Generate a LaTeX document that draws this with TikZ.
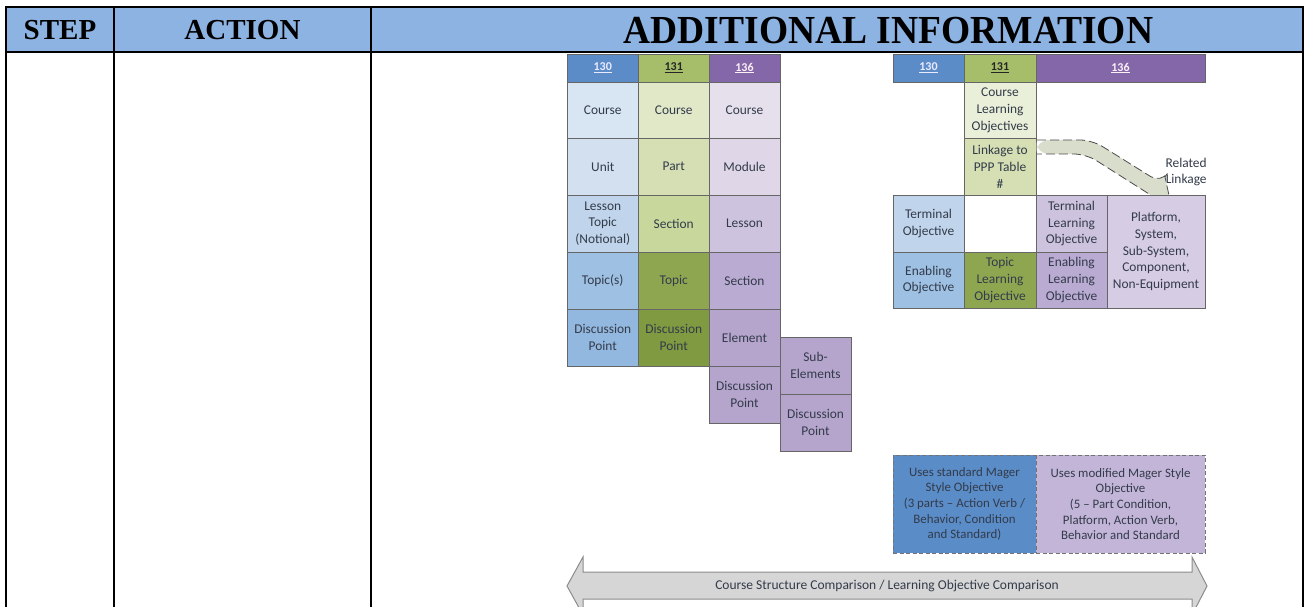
\documentclass[tikz,border=0pt]{standalone}
\usepackage{fontspec}
\setmainfont{Liberation Serif}
\newfontfamily\carl[Ligatures=TeX]{Carlito}
\begin{document}
\begin{tikzpicture}[x=1pt,y=-1pt,
  cell/.style={draw=black!60, line width=0.7pt, inner sep=0pt, align=center,
    text=ink, font=\carl\fontsize{13.4}{16.6}\selectfont},
  hdr/.style={cell, font=\carl\bfseries\fontsize{12}{14}\selectfont},
  tablerule/.style={line width=2.4pt, line cap=rect},
  headtext/.style={font=\bfseries\fontsize{29}{32}\selectfont},
  linkarrow/.style={draw=black!70, dashed, dash pattern=on 9pt off 4pt, line width=0.8pt},
  bigarrow/.style={fill=black!16, draw=black!45, line width=1pt},
  mager/.style={cell, draw=black!55, dashed, dash pattern=on 4pt off 2.5pt, line width=0.9pt,
    font=\carl\fontsize{12.9}{15.7}\selectfont}]
\definecolor{ink}{HTML}{333B4A}
\definecolor{hblue}{HTML}{5B8CC8}
\definecolor{hgreen}{HTML}{A6BE6A}
\definecolor{hpurple}{HTML}{8367A9}
\definecolor{linkfill}{HTML}{D9DDCB}
\definecolor{tablehead}{HTML}{8DB3E2}
\definecolor{bA}{HTML}{D8E5F2}
\definecolor{bB}{HTML}{D2E0EF}
\definecolor{bC}{HTML}{C0D5EB}
\definecolor{bD}{HTML}{9EC0E3}
\definecolor{bE}{HTML}{93B8DF}
\definecolor{gA}{HTML}{E1E8C8}
\definecolor{gB}{HTML}{D5DFB3}
\definecolor{gC}{HTML}{C8D89C}
\definecolor{gD}{HTML}{8FA651}
\definecolor{gE}{HTML}{7F9A40}
\definecolor{pA}{HTML}{E6E0EC}
\definecolor{pB}{HTML}{DFD7E8}
\definecolor{pC}{HTML}{CEC3DE}
\definecolor{pD}{HTML}{BAABD2}
\definecolor{pE}{HTML}{B5A5CC}
\definecolor{pF}{HTML}{D6CCE3}
\definecolor{mB}{HTML}{5A8CC8}
\definecolor{mP}{HTML}{C3B5D8}
% cell: [style] name, x1, y1, x2, y2, fill, text
\newcommand\gcell[8][cell]{\node[#1,fill=#7,minimum width={(#5-#3)*1pt},minimum height={(#6-#4)*1pt}] (#2) at ({(#3+#5)/2},{(#4+#6)/2}) {#8};}

\useasboundingbox (0,0) rectangle (1309,607);
\clip (0,0) rectangle (1309,607);

% table header
\fill[tablehead] (6,7) rectangle (1303,52);
\node[headtext] (hstep) at (60,30.5) {STEP};
\node[headtext] (haction) at (242.5,30.5) {ACTION};
\node[headtext, font=\bfseries\fontsize{37.5}{40}\selectfont] (hinfo) at (888.5,31)
  {\scalebox{1}[1.06]{ADDITIONAL INFORMATION}};

% course structure grid
\gcell[hdr]{a0}{567}{54}{638.5}{82}{hblue}{\color{blue!8!white}\underline{130}}
\gcell[hdr]{b0}{638.5}{54}{709}{82}{hgreen}{\color{black!85}\underline{131}}
\gcell[hdr]{c0}{709}{54}{780}{82}{hpurple}{\color{purple!6!white}\underline{136}}

\gcell{a1}{567}{82}{638.5}{138.5}{bA}{Course}
\gcell{a2}{567}{138.5}{638.5}{195}{bB}{Unit}
\gcell{a3}{567}{195}{638.5}{252}{bC}{Lesson\\Topic\\(Notional)}
\gcell{a4}{567}{252}{638.5}{309}{bD}{Topic(s)}
\gcell{a5}{567}{309}{638.5}{366}{bE}{Discussion\\Point}

\gcell{b1}{638.5}{82}{709}{138.5}{gA}{Course}
\gcell{b2}{638.5}{138.5}{709}{195}{gB}{Part}
\gcell{b3}{638.5}{195}{709}{252}{gC}{Section}
\gcell{b4}{638.5}{252}{709}{309}{gD}{Topic}
\gcell{b5}{638.5}{309}{709}{366}{gE}{Discussion\\Point}

\gcell{c1}{709}{82}{780}{138.5}{pA}{Course}
\gcell{c2}{709}{138.5}{780}{195}{pB}{Module}
\gcell{c3}{709}{195}{780}{252}{pC}{Lesson}
\gcell{c4}{709}{252}{780}{309}{pD}{Section}
\gcell{c5}{709}{309}{780}{366}{pE}{Element}
\gcell{c6}{709}{366}{780}{423}{pE}{Discussion\\Point}
\gcell{d1}{780}{337}{851}{394}{pE}{Sub-\\Elements}
\gcell{d2}{780}{394}{851}{451}{pE}{Discussion\\Point}

% learning objective grid
\gcell[hdr]{p0}{893}{54}{964}{82}{hblue}{\color{blue!8!white}\underline{130}}
\gcell[hdr]{q0}{964}{54}{1036}{82}{hgreen}{\color{black!85}\underline{131}}
\gcell[hdr]{r0}{1036}{54}{1205}{82}{hpurple}{\color{purple!6!white}\underline{136}}

\gcell{q1}{964}{82}{1036}{138.5}{gA!70!white}{Course\\Learning\\Objectives}
\gcell{q2}{964}{138.5}{1036}{195}{gB}{Linkage to\\PPP Table\\\#}

% related linkage arrow
\fill[linkfill, rounded corners=12pt] (1036.5,140) -- (1092,140) -- (1161,183) [sharp corners] -- (1165,177) -- (1170,200)
  -- (1148,204) -- (1153,196.5) [rounded corners=12pt] -- (1086,154) -- (1036.5,154) -- cycle;
\draw[linkarrow, rounded corners=12pt] (1037,140) -- (1092,140) -- (1161,183) [sharp corners] -- (1165,177) -- (1170,200)
  -- (1148,204) -- (1153,196.5) [rounded corners=12pt] -- (1086,154) -- (1037,154);
\node[cell, draw=none, align=right, anchor=east] (rel) at (1207,172) {Related\\Linkage};

\gcell{p1}{893}{195}{964}{252}{bC}{Terminal\\Objective}
\gcell{q3}{964}{195}{1036}{252}{white}{}
\gcell{r1}{1036}{195}{1107}{252}{pC}{Terminal\\Learning\\Objective}
\gcell{s1}{1107}{195}{1205}{308}{pF}{Platform,\\System,\\Sub-System,\\Component,\\Non-Equipment}
\gcell{p2}{893}{252}{964}{308}{bD}{Enabling\\Objective}
\gcell{q4}{964}{252}{1036}{308}{gD}{Topic\\Learning\\Objective}
\gcell{r2}{1036}{252}{1107}{308}{pD}{Enabling\\Learning\\Objective}

% objective style notes
\gcell[mager]{m1}{893}{455}{1036}{553}{mB}{Uses standard Mager\\Style Objective\\(3 parts – Action Verb /\\Behavior, Condition\\and Standard)}
\gcell[mager]{m2}{1036}{455}{1205}{553}{mP}{Uses modified Mager Style\\Objective\\(5 – Part Condition,\\Platform, Action Verb,\\Behavior and Standard}

% comparison double arrow
\draw[bigarrow] (567,586) -- (583,557) -- (583,572) -- (1192,572) -- (1192,557) -- (1207,586)
  -- (1192,615) -- (1192,599) -- (583,599) -- (583,615) -- cycle;
\node[cell, draw=none, font=\carl\fontsize{13.5}{16}\selectfont] (cmp) at (887,586)
  {Course Structure Comparison / Learning Objective Comparison};

% table rules
\draw[tablerule] (6,7) -- (1303,7);
\draw[tablerule] (6,52) -- (1303,52);
\draw[tablerule] (6,7) -- (6,610);
\draw[tablerule] (114,7) -- (114,610);
\draw[tablerule] (371,7) -- (371,610);
\draw[tablerule] (1303,7) -- (1303,610);
\end{tikzpicture}
\end{document}
